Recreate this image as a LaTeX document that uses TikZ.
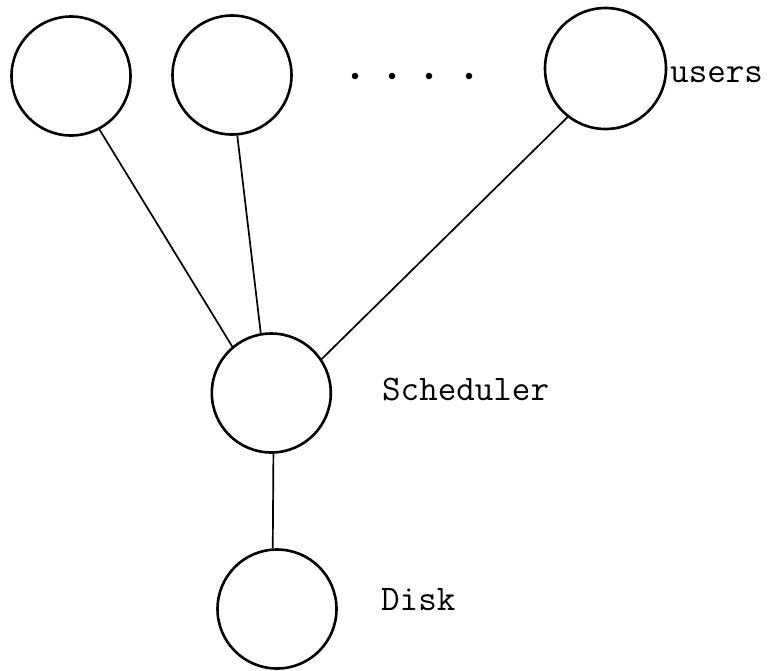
\documentclass[tikz,border=0pt]{standalone}
\usepackage{fontspec}
\begin{document}
\begin{tikzpicture}[x=1pt,y=-1pt,
  proc/.style={draw,circle,line width=2.6pt,inner sep=0pt,minimum size=119pt},
  link/.style={line width=1.7pt},
  dotmark/.style={circle,fill,inner sep=0pt,minimum size=6.5pt},
  lbl/.style={anchor=base west,inner sep=0pt,font=\ttfamily\fontsize{36}{42}\selectfont}]
\useasboundingbox (0,0) rectangle (773,670);
\node[proc] (u1) at (71,76) {};
\node[proc] (u2) at (232,75) {};
\node[proc,minimum size=121pt] (u3) at (605.5,68.5) {};
\node[proc] (s) at (271.3,393) {};
\node[proc] (d) at (277,609) {};
\node[dotmark] (p1) at (355,76) {};
\node[dotmark] (p2) at (392,76) {};
\node[dotmark] (p3) at (429,76) {};
\node[dotmark] (p4) at (469,76) {};
\node[lbl] (lu) at (670,82) {users};
\node[lbl] (ls) at (382,400) {Scheduler};
\node[lbl] (ld) at (381,610) {Disk};
\draw[link] (u1.-62) -- (s.130);
\draw[link] (u2.-85.5) -- (s.100);
\draw[link] (u3.232) -- (s.34);
\draw[link] (s.-88) -- (d.94);
\end{tikzpicture}
\end{document}
